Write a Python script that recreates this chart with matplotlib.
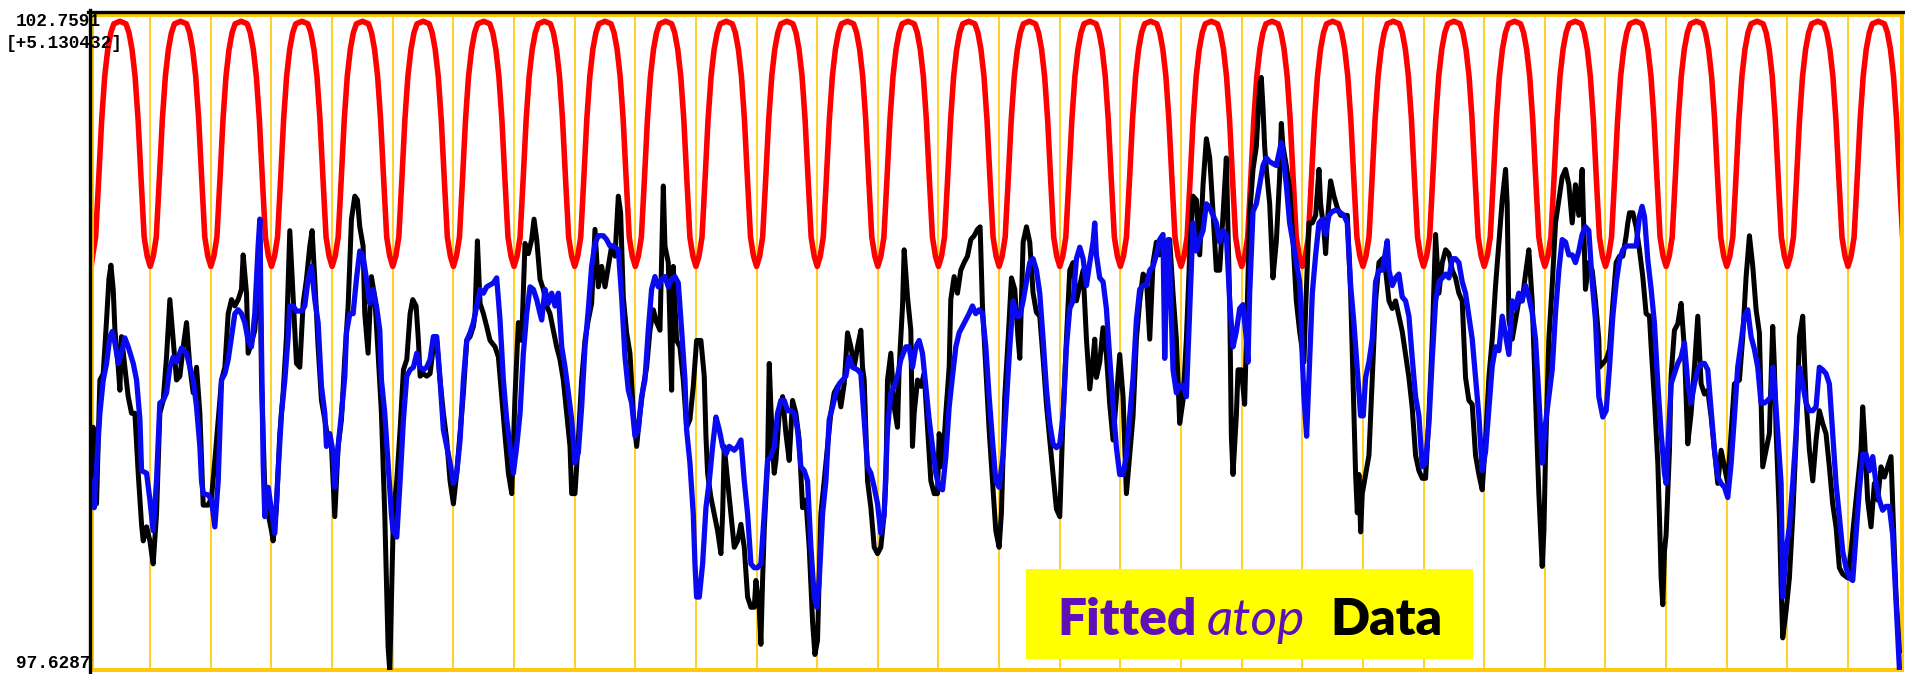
import numpy as np
import matplotlib
matplotlib.use("Agg")
import matplotlib.pyplot as plt
from matplotlib.lines import Line2D
from matplotlib.patches import Rectangle

# ---------------- data (x in days, grid line every day; y in degrees) ----------------
y_top_label = "102.7591"
y_range_label = "[+5.130432]"
y_bottom_label = "97.6287"
y_min, y_max = 97.6287, 102.7591
x_min, x_max = 0.04, 29.89
n_days = 30

red_cycle = [100.79, 100.87, 101.02, 101.47, 101.94, 102.28, 102.49, 102.62, 102.69, 102.70,
             102.71, 102.70, 102.69, 102.62, 102.49, 102.28, 101.94, 101.47, 101.02, 100.87]
red_step = 0.05
red_start = [(0.0, 100.70)]

# measured data (black)
black_points = [
    (0.033, 98.95), (0.060, 99.53), (0.115, 98.93), (0.170, 99.90), (0.225, 99.95), (0.280, 100.37),
    (0.319, 100.69), (0.352, 100.80), (0.390, 100.61), (0.418, 100.29), (0.473, 100.00), (0.500, 99.82),
    (0.527, 100.24), (0.582, 100.00), (0.637, 99.77), (0.692, 99.64), (0.747, 99.64), (0.802, 99.17),
    (0.857, 98.77), (0.885, 98.64), (0.940, 98.75), (0.995, 98.64), (1.049, 98.46), (1.104, 98.85),
    (1.159, 99.64), (1.214, 99.74), (1.269, 100.08), (1.324, 100.53), (1.379, 100.21), (1.434, 99.90),
    (1.489, 99.93), (1.544, 100.16), (1.599, 100.35), (1.654, 100.00), (1.709, 99.80), (1.764, 100.00),
    (1.819, 99.64), (1.874, 98.92), (1.956, 98.92), (2.011, 98.98), (2.066, 99.27), (2.176, 99.90),
    (2.231, 100.00), (2.286, 100.42), (2.341, 100.53), (2.396, 100.48), (2.451, 100.53), (2.505, 100.61),
    (2.533, 100.88), (2.588, 100.58), (2.615, 100.11), (2.670, 100.19), (2.725, 100.29), (2.753, 100.48),
    (2.780, 100.69), (2.808, 101.00), (2.835, 99.90), (2.890, 99.04), (2.945, 98.85), (3.000, 98.72),
    (3.027, 98.64), (3.082, 98.90), (3.137, 99.48), (3.192, 99.80), (3.247, 100.24), (3.302, 101.07),
    (3.357, 100.55), (3.412, 100.03), (3.467, 100.00), (3.522, 100.50), (3.577, 100.69), (3.632, 100.95),
    (3.670, 101.07), (3.714, 100.69), (3.769, 100.16), (3.824, 99.74), (3.879, 99.59), (3.934, 99.43),
    (3.989, 99.38), (4.044, 98.83), (4.099, 99.38), (4.154, 99.59), (4.209, 100.08), (4.264, 100.48),
    (4.319, 101.16), (4.374, 101.34), (4.418, 101.31), (4.456, 101.10), (4.511, 100.95), (4.538, 100.42),
    (4.593, 100.11), (4.648, 100.71), (4.703, 100.55), (4.758, 100.11), (4.813, 99.64), (4.868, 98.85),
    (4.923, 97.81), (4.951, 97.62),
    (5.011, 98.85), (5.066, 99.11), (5.121, 99.51), (5.176, 99.98), (5.231, 100.06), (5.286, 100.42),
    (5.330, 100.53), (5.385, 100.48), (5.423, 100.21), (5.451, 99.93), (5.505, 99.95), (5.560, 99.93),
    (5.615, 99.95), (5.670, 100.16), (5.725, 100.21), (5.780, 99.90), (5.835, 99.64), (5.890, 99.43),
    (5.945, 99.11), (6.000, 98.93), (6.055, 99.17), (6.110, 99.48), (6.165, 99.80), (6.220, 100.21),
    (6.275, 100.24), (6.330, 100.32), (6.357, 100.42), (6.396, 100.99), (6.440, 100.50), (6.495, 100.42),
    (6.549, 100.32), (6.604, 100.21), (6.687, 100.16), (6.742, 100.08), (6.797, 99.77), (6.852, 99.46),
    (6.907, 99.17), (6.962, 99.01), (7.016, 99.77), (7.071, 100.35), (7.126, 100.21), (7.181, 100.97),
    (7.236, 100.89), (7.291, 101.00), (7.330, 101.16), (7.374, 101.00), (7.429, 100.69), (7.484, 100.61),
    (7.538, 100.48), (7.593, 100.42), (7.648, 100.29), (7.703, 100.16), (7.758, 100.06), (7.813, 99.90),
    (7.868, 99.64), (7.923, 99.38), (7.951, 99.01), (8.005, 99.01), (8.060, 99.43), (8.115, 99.90),
    (8.170, 100.21), (8.225, 100.37), (8.280, 100.50), (8.335, 101.08), (8.390, 100.63), (8.445, 100.79),
    (8.500, 100.63), (8.555, 100.79), (8.610, 100.95), (8.665, 100.87), (8.720, 101.34), (8.758, 101.21),
    (8.802, 100.55), (8.857, 100.27), (8.912, 100.11), (8.967, 99.64), (9.022, 99.38), (9.077, 99.64),
    (9.132, 99.85), (9.187, 100.00), (9.242, 100.29), (9.297, 100.45), (9.352, 100.35), (9.407, 100.29),
    (9.462, 101.42), (9.489, 100.95), (9.544, 100.82), (9.599, 99.82), (9.626, 100.79), (9.681, 100.21),
    (9.736, 100.16), (9.791, 99.90), (9.846, 99.53), (9.901, 99.59), (9.956, 99.85), (10.011, 100.21),
    (10.082, 100.21), (10.137, 99.93), (10.165, 99.46), (10.192, 99.17), (10.247, 98.98), (10.302, 98.85),
    (10.357, 98.72), (10.412, 98.54), (10.440, 98.85), (10.467, 99.38), (10.522, 99.11), (10.577, 98.85),
    (10.632, 98.59), (10.687, 98.64), (10.742, 98.77), (10.797, 98.59), (10.852, 98.20), (10.907, 98.12),
    (10.962, 98.12), (10.989, 98.33), (11.044, 98.12), (11.071, 97.83), (11.099, 98.33), (11.126, 98.72),
    (11.181, 99.25), (11.209, 100.03), (11.236, 99.69), (11.264, 99.38), (11.291, 99.17), (11.319, 99.27),
    (11.374, 99.64), (11.429, 99.77), (11.484, 99.48), (11.538, 99.27), (11.593, 99.74), (11.648, 99.64),
    (11.703, 99.43), (11.758, 98.90), (11.813, 98.96), (11.868, 98.59), (11.923, 98.01), (11.962, 97.75),
    (12.005, 97.86), (12.060, 98.85), (12.115, 99.11), (12.170, 99.38), (12.225, 99.64), (12.280, 99.80),
    (12.335, 99.85), (12.390, 99.69), (12.445, 99.87), (12.500, 100.27), (12.555, 100.16), (12.610, 100.00),
    (12.665, 100.16), (12.720, 100.29), (12.747, 100.00), (12.775, 99.90), (12.830, 99.11), (12.885, 98.90),
    (12.940, 98.59), (12.995, 98.54), (13.049, 98.59), (13.104, 98.85), (13.132, 99.11), (13.159, 99.90),
    (13.214, 100.11), (13.269, 99.69), (13.324, 99.53), (13.352, 100.00), (13.407, 100.48), (13.434, 100.92),
    (13.489, 100.55), (13.544, 100.29), (13.571, 99.38), (13.599, 99.64), (13.654, 99.90), (13.709, 99.85),
    (13.764, 99.95), (13.819, 99.53), (13.874, 99.11), (13.929, 99.01), (13.984, 99.01), (14.011, 99.48),
    (14.066, 99.22), (14.121, 99.64), (14.176, 100.00), (14.203, 100.53), (14.258, 100.71), (14.313, 100.58),
    (14.368, 100.76), (14.423, 100.82), (14.478, 100.87), (14.533, 101.00), (14.588, 101.03), (14.643, 101.08),
    (14.687, 101.10), (14.725, 100.48), (14.780, 100.00), (14.835, 99.51), (14.890, 99.11), (14.945, 98.72),
    (15.000, 98.59),
    (15.038, 98.86), (15.093, 99.77), (15.148, 100.22), (15.203, 100.70), (15.258, 100.61), (15.313, 100.22),
    (15.341, 100.07), (15.368, 100.52), (15.396, 100.98), (15.451, 101.10), (15.505, 100.98), (15.560, 100.58),
    (15.615, 100.43), (15.670, 100.40), (15.725, 100.07), (15.780, 99.71), (15.835, 99.43), (15.890, 99.16),
    (15.945, 98.89), (16.000, 98.83), (16.055, 99.62), (16.110, 100.22), (16.165, 100.76), (16.220, 100.82),
    (16.275, 100.52), (16.330, 100.64), (16.385, 100.76), (16.440, 100.22), (16.495, 99.83), (16.549, 100.07),
    (16.577, 100.22), (16.604, 99.92), (16.659, 100.04), (16.714, 100.31), (16.769, 100.10), (16.824, 99.71),
    (16.879, 99.43), (16.934, 99.77), (16.989, 100.10), (17.044, 99.77), (17.099, 99.01), (17.154, 99.31),
    (17.209, 99.62), (17.264, 100.22), (17.319, 100.52), (17.374, 100.73), (17.429, 100.70), (17.484, 100.22),
    (17.538, 100.82), (17.593, 100.98), (17.648, 100.88), (17.703, 100.98), (17.758, 100.76), (17.813, 101.00),
    (17.868, 100.58), (17.923, 100.22), (17.978, 99.56), (18.033, 99.74), (18.088, 100.22), (18.143, 100.88),
    (18.198, 101.34), (18.253, 101.31), (18.308, 100.88), (18.363, 101.43), (18.418, 101.79), (18.473, 101.64),
    (18.527, 101.22), (18.582, 100.76), (18.637, 100.76), (18.692, 101.19), (18.747, 101.64), (18.775, 101.07),
    (18.802, 100.52), (18.830, 99.46), (18.857, 99.16), (18.912, 99.62), (18.940, 99.98), (18.995, 99.98),
    (19.049, 99.71), (19.077, 100.22), (19.132, 101.19), (19.187, 101.55), (19.242, 101.73), (19.297, 102.21),
    (19.324, 102.27), (19.352, 102.03), (19.379, 101.73), (19.407, 101.55), (19.462, 101.28), (19.516, 100.70),
    (19.571, 100.98), (19.626, 101.49), (19.654, 101.91), (19.681, 101.73), (19.736, 101.58), (19.791, 101.40),
    (19.846, 101.00), (19.901, 100.52), (19.956, 100.28),
    (20.027, 100.04), (20.055, 100.46), (20.110, 101.13), (20.165, 101.13), (20.220, 101.19), (20.275, 101.55),
    (20.302, 101.28), (20.357, 101.07), (20.385, 100.89), (20.412, 101.13), (20.467, 101.46), (20.522, 101.34),
    (20.577, 101.25), (20.632, 101.19), (20.687, 101.19), (20.742, 101.19), (20.797, 100.58), (20.852, 99.62),
    (20.879, 99.16), (20.907, 98.86), (20.934, 99.16), (20.962, 98.71), (20.989, 99.01), (21.044, 99.16),
    (21.099, 99.31), (21.154, 99.92), (21.209, 100.52), (21.264, 100.82), (21.319, 100.85), (21.374, 100.76),
    (21.429, 100.52), (21.484, 100.46), (21.538, 100.52), (21.593, 100.40), (21.648, 100.28), (21.703, 100.10),
    (21.758, 99.92), (21.813, 99.68), (21.868, 99.31), (21.923, 99.19), (21.978, 99.13), (22.033, 99.13),
    (22.088, 99.62), (22.143, 100.22), (22.198, 101.04), (22.253, 100.58), (22.308, 100.82), (22.363, 100.92),
    (22.418, 100.89), (22.473, 100.76), (22.527, 100.70), (22.582, 100.58), (22.637, 100.52), (22.692, 99.92),
    (22.747, 99.74), (22.802, 99.71), (22.857, 99.31), (22.912, 99.16), (22.967, 99.04), (23.022, 99.43),
    (23.077, 99.92), (23.132, 100.22), (23.187, 100.64), (23.242, 100.98), (23.297, 101.31), (23.352, 101.55),
    (23.379, 101.28), (23.407, 100.37), (23.462, 100.22), (23.516, 100.37), (23.571, 100.52), (23.626, 100.52),
    (23.681, 100.73), (23.736, 100.92), (23.791, 100.52), (23.846, 99.77), (23.901, 99.01), (23.956, 98.44),
    (23.984, 98.71), (24.011, 99.31), (24.066, 100.22), (24.121, 100.64), (24.176, 101.13), (24.231, 101.31),
    (24.286, 101.49), (24.341, 101.55), (24.396, 101.43), (24.451, 101.13), (24.505, 101.43), (24.560, 101.19),
    (24.615, 101.55), (24.670, 100.61), (24.725, 100.82), (24.780, 100.76), (24.835, 100.52), (24.890, 100.22),
    (24.901, 100.00), (24.956, 100.03), (25.011, 100.06), (25.066, 100.14), (25.121, 100.50), (25.176, 100.82),
    (25.231, 100.87), (25.286, 100.87), (25.341, 101.03), (25.368, 101.13), (25.396, 101.21), (25.451, 101.21),
    (25.505, 101.10), (25.560, 100.92), (25.615, 100.71), (25.670, 100.42), (25.725, 100.40), (25.753, 100.16),
    (25.808, 99.74), (25.863, 99.25), (25.890, 98.83), (25.918, 98.35), (25.945, 98.14), (25.973, 98.56),
    (26.000, 98.69), (26.055, 99.35), (26.082, 99.93), (26.137, 100.29), (26.192, 100.34), (26.247, 100.50),
    (26.302, 100.14), (26.357, 99.40), (26.412, 99.64), (26.467, 100.00), (26.522, 100.40), (26.577, 99.87),
    (26.632, 99.79), (26.687, 99.82), (26.742, 99.61), (26.797, 99.35), (26.852, 99.09), (26.907, 99.35),
    (26.962, 99.22), (27.016, 99.09), (27.071, 99.48), (27.126, 99.87), (27.209, 99.90), (27.264, 100.24),
    (27.319, 100.71), (27.374, 101.03), (27.429, 100.79), (27.484, 100.45), (27.538, 100.27), (27.593, 99.22),
    (27.648, 99.35), (27.703, 99.48), (27.758, 100.32), (27.786, 100.00), (27.813, 99.51), (27.868, 98.83),
    (27.896, 98.30), (27.923, 97.88), (27.978, 98.09), (28.033, 98.35), (28.088, 98.83), (28.143, 99.43),
    (28.198, 100.24), (28.253, 100.40), (28.308, 99.74), (28.363, 99.35), (28.418, 99.11), (28.473, 99.43),
    (28.527, 99.66), (28.582, 99.56), (28.637, 99.48), (28.692, 99.22), (28.747, 98.93), (28.802, 98.75),
    (28.857, 98.43), (28.912, 98.38), (28.995, 98.35), (29.049, 98.56), (29.104, 98.83), (29.159, 99.09),
    (29.214, 99.35), (29.242, 99.69), (29.269, 99.48), (29.324, 98.96), (29.379, 98.75), (29.434, 99.09),
    (29.489, 98.96), (29.544, 99.22), (29.599, 99.14), (29.654, 99.22), (29.709, 99.30), (29.736, 98.93),
    (29.791, 98.22), (29.846, 97.78),
]

# fitted curve atop the data (blue)
blue_points = [
    (0.033, 99.11), (0.077, 98.90), (0.115, 99.22), (0.170, 99.64), (0.225, 99.90), (0.280, 100.03),
    (0.335, 100.24), (0.374, 100.28), (0.418, 100.19), (0.473, 100.03), (0.527, 100.11), (0.582, 100.23),
    (0.637, 100.16), (0.720, 100.03), (0.775, 99.90), (0.830, 99.59), (0.857, 99.19), (0.940, 99.17),
    (0.995, 98.96), (1.049, 98.72), (1.104, 99.11), (1.159, 99.72), (1.214, 99.74), (1.269, 99.80),
    (1.324, 100.00), (1.379, 100.08), (1.434, 100.04), (1.516, 100.15), (1.599, 100.11), (1.654, 100.00),
    (1.709, 99.90), (1.764, 99.69), (1.819, 99.38), (1.846, 99.11), (1.874, 99.01), (1.956, 99.00),
    (2.011, 98.96), (2.066, 98.75), (2.121, 99.11), (2.176, 99.90), (2.231, 99.95), (2.286, 100.06),
    (2.341, 100.24), (2.396, 100.42), (2.451, 100.45), (2.505, 100.42), (2.560, 100.35), (2.615, 100.21),
    (2.670, 100.16), (2.725, 100.42), (2.753, 100.69), (2.780, 100.95), (2.808, 101.16), (2.835, 100.16),
    (2.863, 99.25), (2.890, 98.83), (2.945, 99.06), (3.000, 98.88), (3.055, 98.70), (3.110, 99.19),
    (3.165, 99.64), (3.220, 99.90), (3.275, 100.24), (3.302, 100.48), (3.357, 100.48), (3.412, 100.44),
    (3.495, 100.44), (3.549, 100.48), (3.604, 100.69), (3.659, 100.79), (3.714, 100.53), (3.769, 100.35),
    (3.824, 99.85), (3.879, 99.64), (3.907, 99.38), (3.962, 99.48), (4.016, 99.33), (4.044, 99.06),
    (4.099, 99.38), (4.154, 99.64), (4.209, 99.93), (4.236, 100.27), (4.291, 100.42), (4.346, 100.42),
    (4.401, 100.69), (4.456, 100.91), (4.511, 100.87), (4.566, 100.69), (4.621, 100.50), (4.676, 100.61),
    (4.731, 100.48), (4.786, 100.29), (4.813, 99.90), (4.868, 99.64), (4.923, 99.25), (4.978, 98.85),
    (5.005, 98.72),
    (5.066, 98.67), (5.121, 99.11), (5.176, 99.59), (5.231, 99.93), (5.286, 99.98), (5.341, 100.00),
    (5.396, 100.11), (5.451, 100.00), (5.505, 99.98), (5.560, 100.00), (5.615, 100.06), (5.670, 100.24),
    (5.725, 100.24), (5.780, 99.90), (5.835, 99.51), (5.890, 99.38), (5.945, 99.25), (6.000, 99.09),
    (6.055, 99.17), (6.110, 99.43), (6.165, 99.90), (6.220, 100.21), (6.275, 100.27), (6.330, 100.35),
    (6.385, 100.48), (6.440, 100.61), (6.495, 100.58), (6.549, 100.63), (6.659, 100.66), (6.714, 100.70),
    (6.769, 100.37), (6.824, 99.90), (6.879, 99.59), (6.934, 99.38), (6.989, 99.17), (7.044, 99.38),
    (7.099, 99.64), (7.154, 100.11), (7.209, 100.42), (7.264, 100.63), (7.319, 100.61), (7.374, 100.53),
    (7.429, 100.42), (7.456, 100.37), (7.511, 100.61), (7.566, 100.50), (7.621, 100.58), (7.676, 100.48),
    (7.731, 100.58), (7.786, 100.16), (7.841, 100.00), (7.896, 99.80), (7.951, 99.59), (8.005, 99.25),
    (8.060, 99.33), (8.115, 99.69), (8.170, 100.16), (8.225, 100.45), (8.280, 100.79), (8.335, 100.97),
    (8.390, 101.03), (8.473, 101.03), (8.527, 101.00), (8.582, 100.95), (8.637, 100.95), (8.720, 100.92),
    (8.775, 100.55), (8.830, 100.08), (8.885, 99.82), (8.940, 99.72), (8.995, 99.46), (9.049, 99.51),
    (9.104, 99.77), (9.159, 99.90), (9.214, 100.29), (9.269, 100.61), (9.324, 100.71), (9.379, 100.63),
    (9.434, 100.69), (9.489, 100.71), (9.544, 100.63), (9.599, 100.69), (9.654, 100.71), (9.709, 100.66),
    (9.764, 100.29), (9.819, 99.90), (9.846, 99.51), (9.901, 99.25), (9.956, 98.85), (9.984, 98.46),
    (10.011, 98.20),
    (10.055, 98.20), (10.110, 98.46), (10.165, 98.90), (10.220, 99.11), (10.275, 99.38), (10.330, 99.61),
    (10.385, 99.51), (10.440, 99.38), (10.495, 99.32), (10.549, 99.38), (10.632, 99.35), (10.687, 99.38),
    (10.742, 99.43), (10.797, 99.11), (10.852, 98.85), (10.907, 98.46), (10.962, 98.43), (11.016, 98.43),
    (11.071, 98.46), (11.126, 98.85), (11.181, 99.27), (11.236, 99.30), (11.291, 99.38), (11.346, 99.64),
    (11.401, 99.74), (11.456, 99.74), (11.511, 99.66), (11.566, 99.66), (11.621, 99.64), (11.676, 99.51),
    (11.731, 99.22), (11.786, 99.19), (11.841, 99.11), (11.896, 98.59), (11.951, 98.20), (11.995, 98.12),
    (12.033, 98.33), (12.088, 98.85), (12.143, 99.11), (12.198, 99.59), (12.253, 99.69), (12.308, 99.80),
    (12.363, 99.87), (12.418, 99.90), (12.473, 99.93), (12.527, 100.08), (12.582, 100.00), (12.665, 99.98),
    (12.720, 99.95), (12.775, 99.59), (12.830, 99.22), (12.885, 99.17), (12.940, 99.06), (12.995, 98.93),
    (13.049, 98.70), (13.104, 98.85), (13.159, 99.51), (13.214, 99.80), (13.269, 99.85), (13.324, 99.93),
    (13.379, 100.06), (13.462, 100.16), (13.516, 100.16), (13.571, 100.00), (13.626, 100.16), (13.681, 100.21),
    (13.736, 100.11), (13.791, 99.85), (13.846, 99.59), (13.901, 99.38), (13.956, 99.17), (14.011, 99.06),
    (14.066, 99.04), (14.121, 99.30), (14.176, 99.69), (14.231, 99.93), (14.286, 100.16), (14.341, 100.27),
    (14.396, 100.32), (14.451, 100.37), (14.505, 100.42), (14.560, 100.48), (14.615, 100.42), (14.670, 100.45),
    (14.725, 100.42), (14.780, 100.16), (14.835, 99.77), (14.890, 99.43), (14.945, 99.11), (15.000, 99.06),
    (15.066, 99.31), (15.121, 99.74), (15.176, 100.16), (15.231, 100.52), (15.286, 100.40), (15.341, 100.40),
    (15.396, 100.52), (15.451, 100.67), (15.505, 100.82), (15.560, 100.85), (15.615, 100.76), (15.670, 100.58),
    (15.725, 100.22), (15.780, 99.83), (15.835, 99.56), (15.890, 99.40), (15.945, 99.37), (16.000, 99.40),
    (16.055, 99.62), (16.110, 100.16), (16.165, 100.46), (16.220, 100.52), (16.275, 100.85), (16.330, 100.94),
    (16.385, 100.85), (16.440, 100.64), (16.495, 100.82), (16.549, 100.98), (16.577, 101.13), (16.604, 100.88),
    (16.659, 100.70), (16.714, 100.67), (16.769, 100.46), (16.824, 100.07), (16.879, 99.71), (16.934, 99.37),
    (16.989, 99.16), (17.044, 99.16), (17.099, 99.31), (17.154, 99.62), (17.209, 99.92), (17.264, 100.37),
    (17.319, 100.61), (17.374, 100.64), (17.429, 100.64), (17.484, 100.76), (17.538, 100.79), (17.593, 100.88),
    (17.648, 101.00), (17.703, 101.04), (17.731, 100.07), (17.758, 100.67), (17.786, 101.00), (17.813, 100.82),
    (17.868, 99.98), (17.923, 99.80), (17.978, 99.86), (18.033, 99.86), (18.088, 99.77), (18.143, 100.46),
    (18.198, 101.13), (18.253, 100.91), (18.308, 101.00), (18.363, 101.07), (18.418, 101.28), (18.473, 101.25),
    (18.527, 101.19), (18.582, 101.13), (18.637, 100.98), (18.692, 101.07), (18.747, 101.04), (18.802, 100.52),
    (18.857, 100.16), (18.912, 100.28), (18.967, 100.46), (19.022, 100.49), (19.077, 100.22), (19.104, 100.04),
    (19.132, 100.58), (19.187, 101.22), (19.242, 101.28), (19.297, 101.43), (19.352, 101.58), (19.407, 101.64),
    (19.462, 101.61), (19.571, 101.58), (19.626, 101.70), (19.654, 101.76), (19.681, 101.67), (19.736, 101.43),
    (19.791, 101.13), (19.846, 100.98), (19.901, 100.82), (19.956, 100.67),
    (19.973, 100.52), (20.000, 100.07), (20.027, 99.77), (20.071, 99.46), (20.110, 99.92), (20.165, 100.58),
    (20.220, 100.88), (20.275, 101.13), (20.330, 101.16), (20.385, 101.04), (20.440, 101.19), (20.495, 101.22),
    (20.549, 101.23), (20.604, 101.22), (20.687, 101.19), (20.742, 101.13), (20.797, 100.64), (20.852, 100.34),
    (20.907, 99.98), (20.962, 99.62), (21.005, 99.62), (21.044, 99.92), (21.099, 100.04), (21.154, 100.22),
    (21.209, 100.67), (21.264, 100.76), (21.319, 100.76), (21.374, 100.91), (21.401, 100.99), (21.429, 100.76),
    (21.484, 100.64), (21.538, 100.70), (21.593, 100.73), (21.648, 100.55), (21.703, 100.52), (21.758, 100.40),
    (21.813, 100.07), (21.868, 99.77), (21.923, 99.62), (21.978, 99.22), (22.033, 99.25), (22.088, 99.56),
    (22.143, 100.07), (22.198, 100.52), (22.253, 100.67), (22.308, 100.70), (22.363, 100.73), (22.418, 100.70),
    (22.473, 100.85), (22.527, 100.85), (22.582, 100.82), (22.637, 100.67), (22.692, 100.58), (22.747, 100.40),
    (22.802, 100.22), (22.857, 99.92), (22.912, 99.62), (22.967, 99.19), (23.022, 99.34), (23.077, 99.68),
    (23.132, 100.01), (23.187, 100.16), (23.242, 100.13), (23.297, 100.40), (23.352, 100.25), (23.407, 100.10),
    (23.462, 100.52), (23.516, 100.46), (23.571, 100.58), (23.626, 100.52), (23.681, 100.64), (23.736, 100.55),
    (23.791, 100.43), (23.846, 100.22), (23.901, 99.77), (23.956, 99.25), (24.011, 99.56), (24.066, 99.77),
    (24.121, 99.98), (24.176, 100.43), (24.231, 100.76), (24.286, 101.00), (24.341, 100.98), (24.396, 100.88),
    (24.451, 100.88), (24.505, 100.82), (24.560, 100.91), (24.615, 101.04), (24.670, 101.10), (24.725, 101.07),
    (24.780, 100.67), (24.835, 100.37), (24.890, 99.77),
    (24.956, 99.61), (25.011, 99.66), (25.066, 100.00), (25.121, 100.40), (25.176, 100.66), (25.231, 100.84),
    (25.286, 100.92), (25.341, 100.95), (25.423, 100.95), (25.505, 100.95), (25.560, 101.18), (25.604, 101.26),
    (25.643, 101.18), (25.698, 100.84), (25.753, 100.61), (25.808, 100.34), (25.863, 99.87), (25.918, 99.48),
    (25.973, 99.17), (26.000, 99.09), (26.027, 99.35), (26.082, 99.87), (26.137, 99.95), (26.192, 100.03),
    (26.247, 100.08), (26.302, 100.19), (26.357, 99.87), (26.412, 99.72), (26.467, 99.87), (26.522, 99.98),
    (26.577, 100.03), (26.632, 100.03), (26.687, 99.98), (26.742, 99.66), (26.797, 99.35), (26.852, 99.14),
    (26.907, 99.09), (26.962, 99.06), (27.016, 98.98), (27.071, 99.24), (27.126, 99.61), (27.181, 100.00),
    (27.236, 100.19), (27.291, 100.40), (27.346, 100.45), (27.401, 100.24), (27.456, 100.14), (27.511, 100.00),
    (27.566, 99.72), (27.621, 99.72), (27.676, 99.74), (27.731, 99.77), (27.758, 100.00), (27.786, 99.87),
    (27.841, 99.48), (27.896, 99.09), (27.923, 98.20), (27.978, 98.56), (28.033, 98.75), (28.088, 99.09),
    (28.143, 99.48), (28.198, 100.00), (28.253, 99.87), (28.308, 99.72), (28.363, 99.66), (28.418, 99.66),
    (28.473, 99.69), (28.527, 100.00), (28.582, 99.98), (28.637, 99.95), (28.692, 99.87), (28.747, 99.48),
    (28.802, 99.09), (28.857, 98.83), (28.912, 98.56), (28.967, 98.43), (29.022, 98.35), (29.077, 98.33),
    (29.132, 98.69), (29.187, 99.04), (29.242, 99.32), (29.297, 99.32), (29.352, 99.19), (29.407, 99.30),
    (29.462, 99.09), (29.516, 98.96), (29.571, 98.88), (29.626, 98.91), (29.681, 98.91), (29.736, 98.69),
    (29.791, 98.17), (29.846, 97.65),
]

label_parts = ["Fitted", "atop", "Data"]

# ---------------- figure ----------------
W, H = 1905, 674
fig = plt.figure(figsize=(W / 100, H / 100), dpi=100)
fig.patch.set_facecolor("white")

ax = fig.add_axes([92 / W, 4 / H, (1902 - 92) / W, (670 - 15) / H])
ax.set_xlim(x_min, x_max)
ax.set_ylim(y_min, y_max)
ax.set_xticks([])
ax.set_yticks([])
for s in ax.spines.values():
    s.set_color("#FFC800")
    s.set_linewidth(2.8)

for d in range(1, n_days):
    ax.axvline(d, color="#FFC800", lw=1.2, zorder=1)

red_v = np.array(list(red_cycle) * n_days + [red_cycle[0]])
red_t = np.arange(len(red_v)) * red_step
red_v[0] = red_start[0][1]
ax.plot(red_t, red_v, color="#FF0000", lw=4.0, zorder=2)

bt, bv = np.array(black_points).T
ax.plot(bt, bv, color="black", lw=3.6, zorder=3)
ut, uv = np.array(blue_points).T
ax.plot(ut, uv, color="#0A0AF0", lw=3.8, zorder=4)

# black frame edges (left and top)
fig.add_artist(Line2D([89.5 / W, 89.5 / W], [0, 1 - 10 / H], color="black", lw=2.4, transform=fig.transFigure))
fig.add_artist(Line2D([88 / W, 1.0], [1 - 11.5 / H, 1 - 11.5 / H], color="black", lw=2.4, transform=fig.transFigure))

# axis range labels
mono = dict(family="Liberation Mono", weight="bold", fontsize=12.8, color="black", zorder=10)
fig.text(16 / W, 1 - 22 / H, y_top_label, va="center", ha="left", **mono)
fig.text(6 / W, 1 - 43 / H, y_range_label, va="center", ha="left", **mono)
fig.text(16 / W, 1 - 663 / H, y_bottom_label, va="center", ha="left", **mono)

# label box
fig.add_artist(Rectangle((1026 / W, 1 - 659 / H), (1473 - 1026) / W, (659 - 569) / H,
                         facecolor="#FFFF00", edgecolor="none", transform=fig.transFigure, zorder=20))
purple = "#6010B8"
base_y = 1 - 635 / H
fig.text(1057 / W, base_y, label_parts[0], family="Lato", weight="heavy", fontsize=37,
         color=purple, va="baseline", ha="left", zorder=21)
fig.text(1207 / W, base_y, label_parts[1], family="Lato", style="italic", fontsize=37,
         color=purple, va="baseline", ha="left", zorder=21)
fig.text(1330 / W, base_y, label_parts[2], family="Lato", weight="heavy", fontsize=37,
         color="black", va="baseline", ha="left", zorder=21)

fig.savefig("out.png", dpi=100)
